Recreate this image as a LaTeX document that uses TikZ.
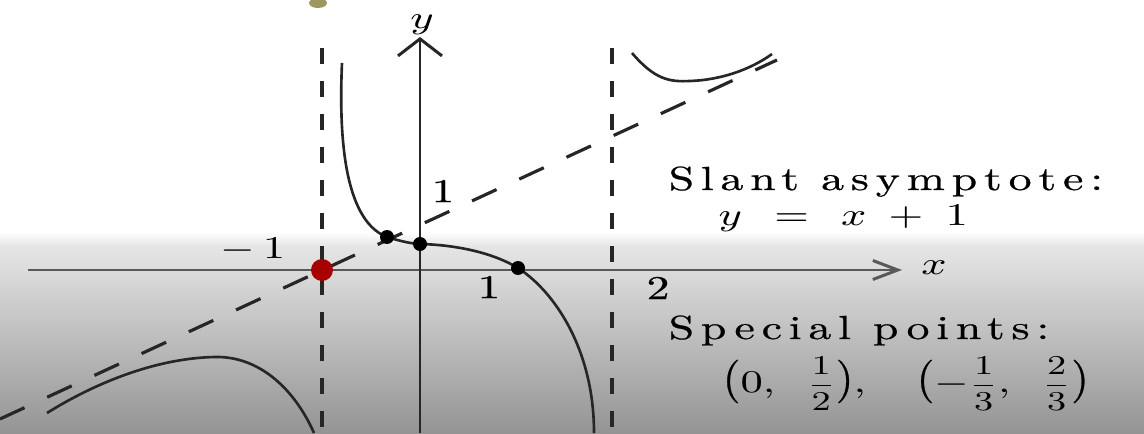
\documentclass[tikz,border=0pt]{standalone}
\usepackage{amsmath}
\usepackage{fontspec}
\usepackage{graphicx}
\usetikzlibrary{arrows.meta}
\newfontfamily\plotfont{lmroman10-regular}[Extension=.otf, LetterSpace=15, FakeBold=0.6]
\newcommand{\wide}[1]{\scalebox{1.37}[1]{#1}}
\newcommand{\hf}[2]{\scalebox{0.86}{$\dfrac{#1}{#2}$}}
\newcommand{\pl}{\scalebox{1}[1.3]{(}}
\newcommand{\pr}{\scalebox{1}[1.3]{)}}

\begin{document}
\begin{tikzpicture}[scale=1.0,
        every node/.style={font={\plotfont\fontsize{9.5}{11}\selectfont}, inner sep=0pt},
        axis/.style={line width=0.85pt},
        curve/.style={black!85, line width=0.75pt},
        asym/.style={black!85, line width=0.9pt, dash pattern=on 0.16cm off 0.17cm},
        slant/.style={black!85, line width=0.9pt, dash pattern=on 0.27cm off 0.25cm}]

        %-- Nền: trắng phía trên, chuyển xám phía dưới --
        \useasboundingbox (-4.20,-1.63) rectangle (7.24,2.70);
        \fill[white] (-4.20,-1.63) rectangle (7.24,2.70);
        \shade[top color=white, bottom color=black!10] (-4.20,0.24) rectangle (7.24,0.38);
        \shade[top color=black!10, bottom color=black!42] (-4.20,-1.63) rectangle (7.24,0.24);
        \fill[olive!75!black, opacity=0.7] (-1.02,2.67) ellipse (0.09 and 0.05);

        %-- Các điểm mốc --
        \coordinate (Xl) at (-3.92,0);
        \coordinate (Xr) at (4.82,0);
        \coordinate (Yb) at (0,-1.63);
        \coordinate (Yt) at (0,2.33);
        \coordinate (Pm) at (-0.98,0);      % x = -1 trên trục
        \coordinate (A) at (-0.33,0.33);    % (-1/3, 2/3)
        \coordinate (B) at (0,0.26);        % (0, 1/2)
        \coordinate (C) at (0.98,0.02);     % nghiệm x = 1

        %-- Trục tọa độ --
        \draw[axis, black!65, -{Straight Barb[length=2.5mm,width=1.9mm]}] (Xl) -- (Xr);
        \draw[axis, black!85, -{Straight Barb[length=1.7mm,width=4.4mm]}] (Yb) -- (Yt);

        %-- Tiệm cận đứng x = -1, x = 2 và tiệm cận xiên y = x + 1 --
        \draw[asym] (-0.98,2.22) -- (-0.98,-1.63);
        \draw[asym] (1.92,2.22) -- (1.92,-1.63);
        \draw[slant] (-4.20,-1.49) -- (3.57,2.10);

        %-- Nhánh giữa --
        \draw[curve] (-0.78,2.07) .. controls (-0.83,0.95) and (-0.64,0.45) .. (A)
        .. controls (-0.20,0.29) and (-0.10,0.265) .. (B)
        .. controls (0.40,0.25) and (0.75,0.16) .. (C)
        .. controls (1.35,-0.22) and (1.74,-0.80) .. (1.74,-1.63);

        %-- Nhánh trái --
        \draw[curve] (-3.73,-1.43) .. controls (-3.20,-1.10) and (-2.60,-0.88) .. (-2.05,-0.87)
        .. controls (-1.60,-0.86) and (-1.25,-1.20) .. (-1.06,-1.63);

        %-- Nhánh phải --
        \draw[curve] (2.12,2.17) .. controls (2.35,1.90) and (2.50,1.88) .. (2.70,1.89)
        .. controls (3.00,1.90) and (3.30,2.00) .. (3.52,2.16);

        %-- Điểm đặc biệt --
        \fill[red!65!black] (Pm) circle (0.11);
        \foreach \p in {A, B, C} {
                \fill[black] (\p) circle (0.07);
            }

        %-- Nhãn trục --
        \node (lx) at (5.14,0.02) {\wide{$x$}};
        \node (ly) at (0.02,2.45) {\wide{$y$}};
        \node (lm1) at (-1.67,0.20) {\wide{$-\,1$}};
        \node (ly1) at (0.23,0.79) {\wide{1}};
        \node (lx1) at (0.69,-0.17) {\wide{1}};
        \node (lx2) at (2.38,-0.18) {\wide{2}};

        %-- Chú thích bên phải --
        \node[anchor=base west] (slant) at (2.48,0.80) {\wide{Slant asymptote:}};
        \node[anchor=base west] (eq) at (2.98,0.45) {\wide{$y \;\,=\;\, x \;+\; 1$}};
        \node[anchor=base west] (spec) at (2.48,-0.69) {\wide{Special points:}};
        \node[anchor=west] (pts) at (3.02,-1.14)
        {\wide{$\pl 0,\hspace{5pt}\hf{1}{2}\pr,\hspace{9pt}\pl{-}\hf{1}{3},\hspace{5pt}\hf{2}{3}\pr$}};

    \end{tikzpicture}
\end{document}
